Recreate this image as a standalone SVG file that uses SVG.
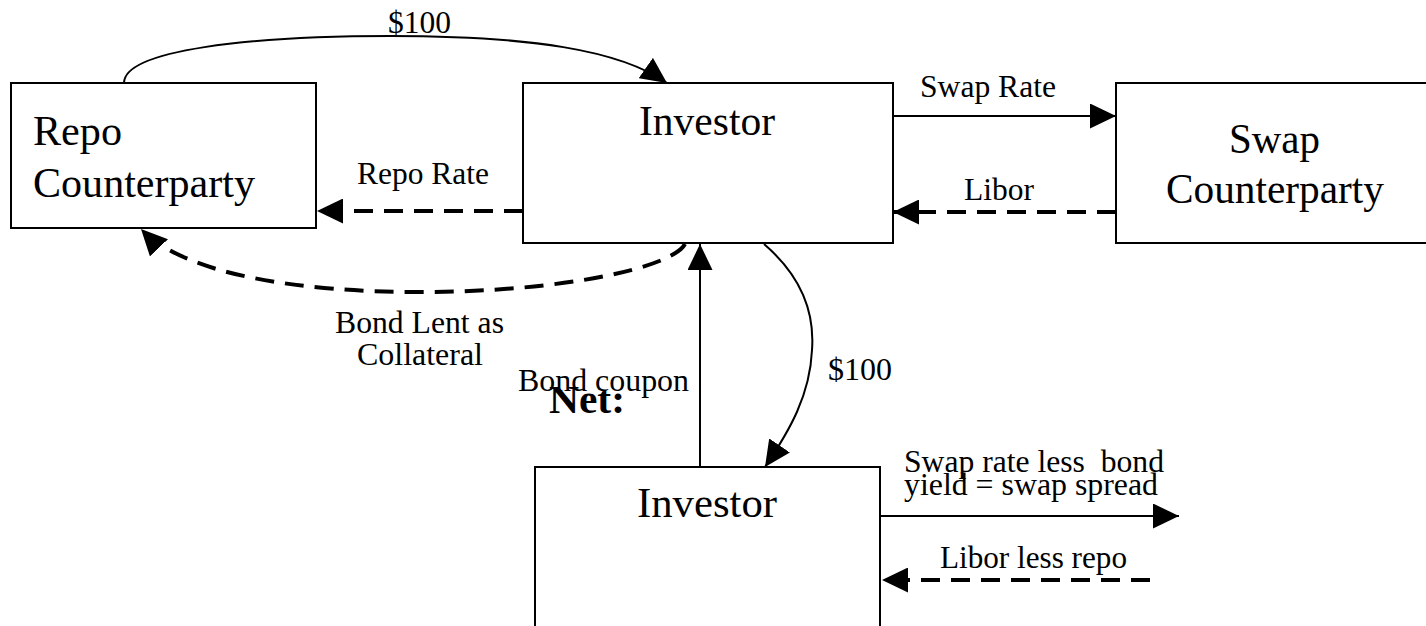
<svg xmlns="http://www.w3.org/2000/svg" width="1426" height="626" viewBox="0 0 1426 626">
  <style>
    .box { fill: #fff; stroke: #000; stroke-width: 2; }
    .big { font-family: "Liberation Serif", "Times New Roman", serif; font-size: 43px; fill: #000; }
    .lbl { font-family: "Liberation Serif", "Times New Roman", serif; font-size: 31px; fill: #000; white-space: pre; }
    .net { font-family: "Liberation Serif", "Times New Roman", serif; font-size: 40px; font-weight: bold; fill: #000; }
    .solid { fill: none; stroke: #000; stroke-width: 2; }
    .dash { fill: none; stroke: #000; stroke-width: 4; stroke-dasharray: 19 11; }
  </style>
  <defs>
    <marker id="head" markerUnits="userSpaceOnUse" markerWidth="26" markerHeight="25" refX="26" refY="12.5" orient="auto">
      <path d="M0,0 L26,12.5 L0,25 Z" fill="#000"/>
    </marker>
  </defs>

  <rect width="1426" height="626" fill="#fff"/>

  <!-- Repo counterparty -->
  <g id="repo-counterparty">
    <rect class="box" x="11" y="83" width="305" height="145"/>
    <text class="big" x="33" y="145" textLength="89" lengthAdjust="spacingAndGlyphs">Repo</text>
    <text class="big" x="33" y="197" textLength="222" lengthAdjust="spacingAndGlyphs">Counterparty</text>
  </g>

  <!-- Investor (gross flows) -->
  <g id="investor">
    <rect class="box" x="523" y="83" width="370" height="160"/>
    <text class="big" x="639" y="135" textLength="136" lengthAdjust="spacingAndGlyphs">Investor</text>
  </g>

  <!-- Swap counterparty, right edge runs off the page -->
  <g id="swap-counterparty">
    <rect class="box" x="1116" y="83" width="330" height="160"/>
    <text class="big" x="1229" y="153" textLength="91" lengthAdjust="spacingAndGlyphs">Swap</text>
    <text class="big" x="1166" y="203" textLength="218" lengthAdjust="spacingAndGlyphs">Counterparty</text>
  </g>

  <!-- Investor (net flows), bottom edge runs off the page -->
  <g id="investor-net">
    <rect class="box" x="535" y="467" width="345" height="200"/>
    <text class="big" x="637" y="517" textLength="140" lengthAdjust="spacingAndGlyphs">Investor</text>
  </g>

  <g id="connectors">
    <!-- cash from repo counterparty to investor -->
    <path class="solid" d="M124,83 C124,50 250,36 390,36 C530,36 620,50 667,83" marker-end="url(#head)"/>
    <!-- repo rate paid -->
    <path class="dash" d="M523,211 L317,211" marker-end="url(#head)"/>
    <!-- bond lent as collateral -->
    <path class="dash" d="M685,244 C672,268 560,292 421,292 C300,292 185,275 141,229" marker-end="url(#head)"/>
    <!-- bond coupon received -->
    <path class="solid" d="M700,467 L700,244" marker-end="url(#head)"/>
    <!-- swap rate paid -->
    <path class="solid" d="M893,116 L1116,116" marker-end="url(#head)"/>
    <!-- libor received -->
    <path class="dash" d="M1116,212 L893,212" marker-end="url(#head)"/>
    <!-- cash down to net investor -->
    <path class="solid" d="M764,244 C800,275 815,310 812,350 C810,395 790,430 765,467" marker-end="url(#head)"/>
    <!-- net swap spread -->
    <path class="solid" d="M880,516 L1179,516" marker-end="url(#head)"/>
    <!-- net libor less repo -->
    <path class="dash" d="M1150,580 L882,580" marker-end="url(#head)"/>
  </g>

  <g id="labels">
    <text class="lbl" x="388" y="33" textLength="63" lengthAdjust="spacingAndGlyphs">$100</text>
    <text class="lbl" x="357" y="184" textLength="132" lengthAdjust="spacingAndGlyphs">Repo Rate</text>
    <text class="lbl" x="920" y="97" textLength="136" lengthAdjust="spacingAndGlyphs">Swap Rate</text>
    <text class="lbl" x="964" y="200" textLength="70" lengthAdjust="spacingAndGlyphs">Libor</text>
    <text class="lbl" x="335" y="333" textLength="169" lengthAdjust="spacingAndGlyphs">Bond Lent as</text>
    <text class="lbl" x="357" y="365" textLength="126" lengthAdjust="spacingAndGlyphs">Collateral</text>
    <text class="lbl" x="518" y="391" textLength="171" lengthAdjust="spacingAndGlyphs">Bond coupon</text>
    <text class="net" x="549" y="413" textLength="76" lengthAdjust="spacingAndGlyphs">Net:</text>
    <text class="lbl" x="828" y="380" textLength="64" lengthAdjust="spacingAndGlyphs">$100</text>
    <text class="lbl" x="904" y="472" textLength="260" lengthAdjust="spacingAndGlyphs">Swap rate less  bond</text>
    <text class="lbl" x="904" y="495" textLength="254" lengthAdjust="spacingAndGlyphs">yield = swap spread</text>
    <text class="lbl" x="940" y="568" textLength="187" lengthAdjust="spacingAndGlyphs">Libor less repo</text>
  </g>
</svg>
